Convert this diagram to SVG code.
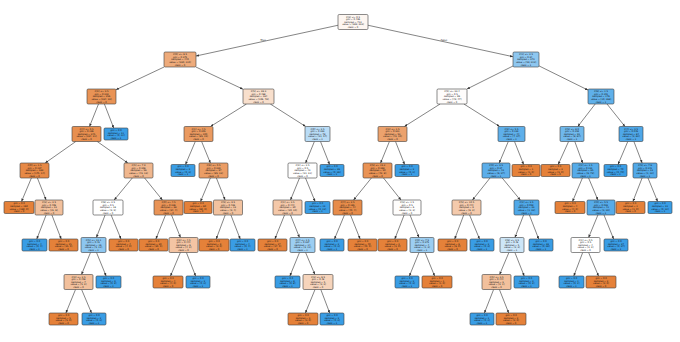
<svg xmlns="http://www.w3.org/2000/svg" width="680" height="342" viewBox="0 0 680 342">
<style>
g rect{stroke:#3c3c3c;stroke-width:0.6}
.O{fill:#e58139}.B{fill:#399de5}
text{font-family:"DejaVu Sans","Liberation Sans",sans-serif;font-size:2.3px;text-anchor:middle;fill:#111}
.lbl{font-size:2.6px}
#connectors line{stroke:#333;stroke-width:0.6;marker-end:url(#ah)}
</style>
<defs><marker id="ah" viewBox="0 0 6 6" refX="6" refY="3" markerWidth="3" markerHeight="3" orient="auto" markerUnits="userSpaceOnUse"><path d="M0,0.5 L6,3 L0,5.5 Z" fill="#333"/></marker></defs>
<g id="connectors">
<line x1="338" y1="25.25" x2="196" y2="56"/>
<line x1="368" y1="25.25" x2="513" y2="56.7"/>
<line x1="164.1" y1="67" x2="116" y2="89.7"/>
<line x1="195.9" y1="67" x2="243" y2="89.2"/>
<line x1="513" y1="66" x2="467" y2="89"/>
<line x1="539" y1="65.9" x2="588" y2="90.1"/>
<line x1="98.5" y1="104" x2="89.5" y2="126.5"/>
<line x1="104.4" y1="104" x2="113.7" y2="128"/>
<line x1="246.5" y1="104" x2="210.5" y2="126.5"/>
<line x1="270.3" y1="104" x2="305.7" y2="126.5"/>
<line x1="440.1" y1="104" x2="404.4" y2="126.5"/>
<line x1="463.9" y1="104" x2="499.6" y2="126.5"/>
<line x1="595.2" y1="104" x2="577.8" y2="126.5"/>
<line x1="607" y1="104" x2="625" y2="126.5"/>
<line x1="75.8" y1="141.5" x2="45.2" y2="163"/>
<line x1="97.2" y1="141.5" x2="127.8" y2="163"/>
<line x1="195.3" y1="141.5" x2="185.5" y2="164.5"/>
<line x1="201.6" y1="141.5" x2="210.4" y2="163"/>
<line x1="314.4" y1="141.5" x2="305.6" y2="163"/>
<line x1="320.5" y1="141.5" x2="329.6" y2="164.5"/>
<line x1="389.4" y1="141.5" x2="380.6" y2="163"/>
<line x1="395.5" y1="141.5" x2="404.6" y2="164.5"/>
<line x1="508.3" y1="141.5" x2="499.2" y2="163"/>
<line x1="514.5" y1="141.5" x2="523.6" y2="164.5"/>
<line x1="568.6" y1="141.5" x2="558.2" y2="164.5"/>
<line x1="574.8" y1="141.5" x2="582.7" y2="163"/>
<line x1="627.8" y1="141.5" x2="618" y2="164.5"/>
<line x1="633.9" y1="141.5" x2="642.1" y2="163"/>
<line x1="31.4" y1="178" x2="21.5" y2="201.5"/>
<line x1="37.4" y1="178" x2="46.1" y2="200"/>
<line x1="132.3" y1="178" x2="114.2" y2="200"/>
<line x1="144.6" y1="178" x2="162.4" y2="200"/>
<line x1="210.4" y1="178" x2="200.5" y2="201.5"/>
<line x1="216.4" y1="178" x2="225.1" y2="200"/>
<line x1="299.5" y1="178" x2="290.5" y2="200"/>
<line x1="305.5" y1="178" x2="315.1" y2="201.5"/>
<line x1="371.4" y1="178" x2="353.6" y2="200"/>
<line x1="383.5" y1="178" x2="401" y2="200"/>
<line x1="490" y1="178" x2="472.5" y2="200"/>
<line x1="502.2" y1="178" x2="520.3" y2="200"/>
<line x1="582.4" y1="178" x2="572.5" y2="201.5"/>
<line x1="588.6" y1="178" x2="597.9" y2="200"/>
<line x1="642.1" y1="178" x2="632.9" y2="201.5"/>
<line x1="648" y1="178" x2="657.6" y2="201.5"/>
<line x1="46.1" y1="215" x2="36.8" y2="239"/>
<line x1="51.9" y1="215" x2="61.2" y2="239"/>
<line x1="105.1" y1="215" x2="96.4" y2="237.5"/>
<line x1="111.1" y1="215" x2="121" y2="239"/>
<line x1="165.5" y1="215" x2="155.9" y2="239"/>
<line x1="171.5" y1="215" x2="180.5" y2="237.5"/>
<line x1="225.2" y1="215" x2="216.2" y2="239"/>
<line x1="230.9" y1="215" x2="240.2" y2="239"/>
<line x1="284.5" y1="215" x2="274.9" y2="239"/>
<line x1="290.5" y1="215" x2="299.5" y2="237.5"/>
<line x1="344.4" y1="215" x2="334.5" y2="239"/>
<line x1="350.5" y1="215" x2="360.1" y2="239"/>
<line x1="404.1" y1="215" x2="394.8" y2="239"/>
<line x1="410" y1="215" x2="419" y2="237.5"/>
<line x1="463.7" y1="215" x2="454.7" y2="239"/>
<line x1="469.6" y1="215" x2="479.5" y2="239"/>
<line x1="523.6" y1="215" x2="514.9" y2="237.5"/>
<line x1="529.4" y1="215" x2="538.7" y2="239"/>
<line x1="597.9" y1="215" x2="588.6" y2="237.5"/>
<line x1="604" y1="215" x2="613.6" y2="239"/>
<line x1="90.5" y1="252.5" x2="81.5" y2="274.5"/>
<line x1="96.5" y1="252.5" x2="106.1" y2="276"/>
<line x1="180.4" y1="252.5" x2="170.5" y2="276"/>
<line x1="186.4" y1="252.5" x2="195.6" y2="276"/>
<line x1="299.5" y1="252.5" x2="289.9" y2="276"/>
<line x1="305.6" y1="252.5" x2="314.9" y2="274.5"/>
<line x1="419" y1="252.5" x2="409.4" y2="276"/>
<line x1="425" y1="252.5" x2="434.6" y2="276"/>
<line x1="508.9" y1="252.5" x2="499.6" y2="274.5"/>
<line x1="514.9" y1="252.5" x2="524.2" y2="276"/>
<line x1="582.7" y1="252.5" x2="573.8" y2="276"/>
<line x1="588.6" y1="252.5" x2="598.5" y2="276"/>
<line x1="75.5" y1="289.5" x2="65.9" y2="313"/>
<line x1="81.6" y1="289.5" x2="91.5" y2="313"/>
<line x1="315" y1="289.5" x2="305.4" y2="313"/>
<line x1="320.8" y1="289.5" x2="329.7" y2="313"/>
<line x1="493.6" y1="289.5" x2="484.4" y2="313"/>
<line x1="499.4" y1="289.5" x2="508.7" y2="313"/>
<text class="lbl" x="263" y="40.5">True</text>
<text class="lbl" x="444" y="40.5">False</text>
</g>
<g id="n0"><rect x="338" y="14.5" width="30" height="15" rx="1.2" fill="#fdf6f1"/><text x="353" y="17.6"><tspan x="353">X[3] &lt;= 0.5</tspan><tspan x="353" dy="2.6">gini = 0.496</tspan><tspan x="353" dy="2.6">samples = 712</tspan><tspan x="353" dy="2.6">value = [389, 323]</tspan><tspan x="353" dy="2.6">class = 0</tspan></text></g>
<g id="n1"><rect x="164" y="52" width="32" height="15" rx="1.2" fill="#eeab7b"/><text x="180" y="55.1"><tspan x="180">X[0] &lt;= 6.5</tspan><tspan x="180" dy="2.6">gini = 0.375</tspan><tspan x="180" dy="2.6">samples = 440</tspan><tspan x="180" dy="2.6">value = [330, 110]</tspan><tspan x="180" dy="2.6">class = 0</tspan></text></g>
<g id="n2"><rect x="513" y="52" width="26" height="15" rx="1.2" fill="#8ec7f0"/><text x="526" y="55.1"><tspan x="526">X[1] &lt;= 2.5</tspan><tspan x="526" dy="2.6">gini = 0.34</tspan><tspan x="526" dy="2.6">samples = 272</tspan><tspan x="526" dy="2.6">value = [59, 213]</tspan><tspan x="526" dy="2.6">class = 1</tspan></text></g>
<g id="n3"><rect x="87" y="89" width="29" height="15" rx="1.2" fill="#e99355"/><text x="101.5" y="92.1"><tspan x="101.5">X[2] &lt;= 3.5</tspan><tspan x="101.5" dy="2.6">gini = 0.219</tspan><tspan x="101.5" dy="2.6">samples = 256</tspan><tspan x="101.5" dy="2.6">value = [224, 32]</tspan><tspan x="101.5" dy="2.6">class = 0</tspan></text></g>
<g id="n4"><rect x="243" y="89" width="31" height="15" rx="1.2" fill="#f8dfcc"/><text x="258.5" y="92.1"><tspan x="258.5">X[5] &lt;= 26.3</tspan><tspan x="258.5" dy="2.6">gini = 0.488</tspan><tspan x="258.5" dy="2.6">samples = 184</tspan><tspan x="258.5" dy="2.6">value = [106, 78]</tspan><tspan x="258.5" dy="2.6">class = 0</tspan></text></g>
<g id="n5"><rect x="437" y="89" width="30" height="15" rx="1.2" fill="#fefcfb"/><text x="452" y="92.1"><tspan x="452">X[5] &lt;= 23.4</tspan><tspan x="452" dy="2.6">gini = 0.5</tspan><tspan x="452" dy="2.6">samples = 96</tspan><tspan x="452" dy="2.6">value = [49, 47]</tspan><tspan x="452" dy="2.6">class = 0</tspan></text></g>
<g id="n6"><rect x="588" y="89" width="26" height="15" rx="1.2" fill="#5fb0ea"/><text x="601" y="92.1"><tspan x="601">X[6] &lt;= 1.5</tspan><tspan x="601" dy="2.6">gini = 0.101</tspan><tspan x="601" dy="2.6">samples = 176</tspan><tspan x="601" dy="2.6">value = [10, 166]</tspan><tspan x="601" dy="2.6">class = 1</tspan></text></g>
<g id="n7"><rect x="72" y="126.5" width="29" height="15" rx="1.2" fill="#e88f4f"/><text x="86.5" y="129.6"><tspan x="86.5">X[4] &lt;= 0.5</tspan><tspan x="86.5" dy="2.6">gini = 0.196</tspan><tspan x="86.5" dy="2.6">samples = 245</tspan><tspan x="86.5" dy="2.6">value = [224, 21]</tspan><tspan x="86.5" dy="2.6">class = 0</tspan></text></g>
<g id="n8"><rect class="B" x="104" y="128" width="24" height="12" rx="1.2"/><text x="116" y="130.9"><tspan x="116">gini = 0.0</tspan><tspan x="116" dy="2.6">samples = 11</tspan><tspan x="116" dy="2.6">value = [0, 11]</tspan><tspan x="116" dy="2.6">class = 1</tspan></text></g>
<g id="n9"><rect x="184" y="126.5" width="29" height="15" rx="1.2" fill="#ea9a60"/><text x="198.5" y="129.6"><tspan x="198.5">X[1] &lt;= 4.5</tspan><tspan x="198.5" dy="2.6">gini = 0.255</tspan><tspan x="198.5" dy="2.6">samples = 100</tspan><tspan x="198.5" dy="2.6">value = [85, 15]</tspan><tspan x="198.5" dy="2.6">class = 0</tspan></text></g>
<g id="n10"><rect x="305" y="126.5" width="25" height="15" rx="1.2" fill="#b9dcf6"/><text x="317.5" y="129.6"><tspan x="317.5">X[0] &lt;= 2.5</tspan><tspan x="317.5" dy="2.6">gini = 0.393</tspan><tspan x="317.5" dy="2.6">samples = 78</tspan><tspan x="317.5" dy="2.6">value = [21, 57]</tspan><tspan x="317.5" dy="2.6">class = 1</tspan></text></g>
<g id="n11"><rect x="378" y="126.5" width="29" height="15" rx="1.2" fill="#eca26d"/><text x="392.5" y="129.6"><tspan x="392.5">X[3] &lt;= 1.5</tspan><tspan x="392.5" dy="2.6">gini = 0.311</tspan><tspan x="392.5" dy="2.6">samples = 52</tspan><tspan x="392.5" dy="2.6">value = [42, 10]</tspan><tspan x="392.5" dy="2.6">class = 0</tspan></text></g>
<g id="n12"><rect x="498" y="126.5" width="27" height="15" rx="1.2" fill="#5eafea"/><text x="511.5" y="129.6"><tspan x="511.5">X[2] &lt;= 5.5</tspan><tspan x="511.5" dy="2.6">gini = 0.122</tspan><tspan x="511.5" dy="2.6">samples = 44</tspan><tspan x="511.5" dy="2.6">value = [7, 37]</tspan><tspan x="511.5" dy="2.6">class = 1</tspan></text></g>
<g id="n13"><rect x="560" y="126.5" width="24" height="15" rx="1.2" fill="#6fb8ec"/><text x="572" y="129.6"><tspan x="572">X[5] &lt;= 8.0</tspan><tspan x="572" dy="2.6">gini = 0.159</tspan><tspan x="572" dy="2.6">samples = 92</tspan><tspan x="572" dy="2.6">value = [8, 84]</tspan><tspan x="572" dy="2.6">class = 1</tspan></text></g>
<g id="n14"><rect x="619" y="126.5" width="24" height="15" rx="1.2" fill="#4ea7e8"/><text x="631" y="129.6"><tspan x="631">X[4] &lt;= 3.5</tspan><tspan x="631" dy="2.6">gini = 0.046</tspan><tspan x="631" dy="2.6">samples = 84</tspan><tspan x="631" dy="2.6">value = [2, 82]</tspan><tspan x="631" dy="2.6">class = 1</tspan></text></g>
<g id="n15"><rect x="20" y="163" width="29" height="15" rx="1.2" fill="#e78946"/><text x="34.5" y="166.1"><tspan x="34.5">X[0] &lt;= 1.5</tspan><tspan x="34.5" dy="2.6">gini = 0.137</tspan><tspan x="34.5" dy="2.6">samples = 189</tspan><tspan x="34.5" dy="2.6">value = [175, 14]</tspan><tspan x="34.5" dy="2.6">class = 0</tspan></text></g>
<g id="n16"><rect x="124" y="163" width="29" height="15" rx="1.2" fill="#f0b78e"/><text x="138.5" y="166.1"><tspan x="138.5">X[5] &lt;= 7.9</tspan><tspan x="138.5" dy="2.6">gini = 0.356</tspan><tspan x="138.5" dy="2.6">samples = 56</tspan><tspan x="138.5" dy="2.6">value = [43, 13]</tspan><tspan x="138.5" dy="2.6">class = 0</tspan></text></g>
<g id="n17"><rect class="B" x="171" y="164.5" width="24" height="12" rx="1.2"/><text x="183" y="167.4"><tspan x="183">gini = 0.0</tspan><tspan x="183" dy="2.6">samples = 3</tspan><tspan x="183" dy="2.6">value = [0, 3]</tspan><tspan x="183" dy="2.6">class = 1</tspan></text></g>
<g id="n18"><rect x="199" y="163" width="29" height="15" rx="1.2" fill="#eb9d65"/><text x="213.5" y="166.1"><tspan x="213.5">X[6] &lt;= 0.5</tspan><tspan x="213.5" dy="2.6">gini = 0.229</tspan><tspan x="213.5" dy="2.6">samples = 97</tspan><tspan x="213.5" dy="2.6">value = [85, 12]</tspan><tspan x="213.5" dy="2.6">class = 0</tspan></text></g>
<g id="n19"><rect x="288" y="163" width="29" height="15" rx="1.2" fill="#ffffff"/><text x="302.5" y="166.1"><tspan x="302.5">X[2] &lt;= 2.5</tspan><tspan x="302.5" dy="2.6">gini = 0.5</tspan><tspan x="302.5" dy="2.6">samples = 42</tspan><tspan x="302.5" dy="2.6">value = [21, 21]</tspan><tspan x="302.5" dy="2.6">class = 0</tspan></text></g>
<g id="n20"><rect class="B" x="320" y="164.5" width="24" height="12" rx="1.2"/><text x="332" y="167.4"><tspan x="332">gini = 0.0</tspan><tspan x="332" dy="2.6">samples = 36</tspan><tspan x="332" dy="2.6">value = [0, 36]</tspan><tspan x="332" dy="2.6">class = 1</tspan></text></g>
<g id="n21"><rect x="363" y="163" width="29" height="15" rx="1.2" fill="#e99355"/><text x="377.5" y="166.1"><tspan x="377.5">X[5] &lt;= 15.2</tspan><tspan x="377.5" dy="2.6">gini = 0.269</tspan><tspan x="377.5" dy="2.6">samples = 50</tspan><tspan x="377.5" dy="2.6">value = [42, 8]</tspan><tspan x="377.5" dy="2.6">class = 0</tspan></text></g>
<g id="n22"><rect class="B" x="395" y="164.5" width="24" height="12" rx="1.2"/><text x="407" y="167.4"><tspan x="407">gini = 0.0</tspan><tspan x="407" dy="2.6">samples = 2</tspan><tspan x="407" dy="2.6">value = [0, 2]</tspan><tspan x="407" dy="2.6">class = 1</tspan></text></g>
<g id="n23"><rect x="482" y="163" width="28" height="15" rx="1.2" fill="#5caeea"/><text x="496" y="166.1"><tspan x="496">X[0] &lt;= 3.5</tspan><tspan x="496" dy="2.6">gini = 0.27</tspan><tspan x="496" dy="2.6">samples = 43</tspan><tspan x="496" dy="2.6">value = [6, 37]</tspan><tspan x="496" dy="2.6">class = 1</tspan></text></g>
<g id="n24"><rect class="O" x="512" y="164.5" width="28" height="12" rx="1.2"/><text x="526" y="167.4"><tspan x="526">gini = 0.0</tspan><tspan x="526" dy="2.6">samples = 1</tspan><tspan x="526" dy="2.6">value = [1, 0]</tspan><tspan x="526" dy="2.6">class = 0</tspan></text></g>
<g id="n25"><rect class="O" x="541" y="164.5" width="29" height="12" rx="1.2"/><text x="555.5" y="167.4"><tspan x="555.5">gini = 0.0</tspan><tspan x="555.5" dy="2.6">samples = 2</tspan><tspan x="555.5" dy="2.6">value = [2, 0]</tspan><tspan x="555.5" dy="2.6">class = 0</tspan></text></g>
<g id="n26"><rect x="572" y="163" width="27" height="15" rx="1.2" fill="#55abe9"/><text x="585.5" y="166.1"><tspan x="585.5">X[1] &lt;= 1.5</tspan><tspan x="585.5" dy="2.6">gini = 0.131</tspan><tspan x="585.5" dy="2.6">samples = 85</tspan><tspan x="585.5" dy="2.6">value = [6, 79]</tspan><tspan x="585.5" dy="2.6">class = 1</tspan></text></g>
<g id="n27"><rect class="B" x="604" y="164.5" width="23" height="12" rx="1.2"/><text x="615.5" y="167.4"><tspan x="615.5">gini = 0.0</tspan><tspan x="615.5" dy="2.6">samples = 70</tspan><tspan x="615.5" dy="2.6">value = [0, 70]</tspan><tspan x="615.5" dy="2.6">class = 1</tspan></text></g>
<g id="n28"><rect x="633" y="163" width="24" height="15" rx="1.2" fill="#52a9e8"/><text x="645" y="166.1"><tspan x="645">X[5] &lt;= 7.6</tspan><tspan x="645" dy="2.6">gini = 0.142</tspan><tspan x="645" dy="2.6">samples = 13</tspan><tspan x="645" dy="2.6">value = [1, 12]</tspan><tspan x="645" dy="2.6">class = 1</tspan></text></g>
<g id="n29"><rect class="O" x="4" y="201.5" width="30" height="12" rx="1.2"/><text x="19" y="204.4"><tspan x="19">gini = 0.0</tspan><tspan x="19" dy="2.6">samples = 160</tspan><tspan x="19" dy="2.6">value = [160, 0]</tspan><tspan x="19" dy="2.6">class = 0</tspan></text></g>
<g id="n30"><rect x="35" y="200" width="28" height="15" rx="1.2" fill="#f2c09c"/><text x="49" y="203.1"><tspan x="49">X[2] &lt;= 2.5</tspan><tspan x="49" dy="2.6">gini = 0.408</tspan><tspan x="49" dy="2.6">samples = 21</tspan><tspan x="49" dy="2.6">value = [15, 6]</tspan><tspan x="49" dy="2.6">class = 0</tspan></text></g>
<g id="n31"><rect x="93" y="200" width="30" height="15" rx="1.2" fill="#ffffff"/><text x="108" y="203.1"><tspan x="108">X[6] &lt;= 2.5</tspan><tspan x="108" dy="2.6">gini = 0.5</tspan><tspan x="108" dy="2.6">samples = 18</tspan><tspan x="108" dy="2.6">value = [9, 9]</tspan><tspan x="108" dy="2.6">class = 0</tspan></text></g>
<g id="n32"><rect x="154" y="200" width="29" height="15" rx="1.2" fill="#e99457"/><text x="168.5" y="203.1"><tspan x="168.5">X[0] &lt;= 4.5</tspan><tspan x="168.5" dy="2.6">gini = 0.236</tspan><tspan x="168.5" dy="2.6">samples = 38</tspan><tspan x="168.5" dy="2.6">value = [34, 4]</tspan><tspan x="168.5" dy="2.6">class = 0</tspan></text></g>
<g id="n33"><rect class="O" x="184" y="201.5" width="28" height="12" rx="1.2"/><text x="198" y="204.4"><tspan x="198">gini = 0.0</tspan><tspan x="198" dy="2.6">samples = 60</tspan><tspan x="198" dy="2.6">value = [60, 0]</tspan><tspan x="198" dy="2.6">class = 0</tspan></text></g>
<g id="n34"><rect x="213.5" y="200" width="29" height="15" rx="1.2" fill="#f2c29f"/><text x="228" y="203.1"><tspan x="228">X[5] &lt;= 9.5</tspan><tspan x="228" dy="2.6">gini = 0.426</tspan><tspan x="228" dy="2.6">samples = 13</tspan><tspan x="228" dy="2.6">value = [9, 4]</tspan><tspan x="228" dy="2.6">class = 0</tspan></text></g>
<g id="n35"><rect x="273" y="200" width="29" height="15" rx="1.2" fill="#f4c8a9"/><text x="287.5" y="203.1"><tspan x="287.5">X[1] &lt;= 3.5</tspan><tspan x="287.5" dy="2.6">gini = 0.444</tspan><tspan x="287.5" dy="2.6">samples = 30</tspan><tspan x="287.5" dy="2.6">value = [20, 10]</tspan><tspan x="287.5" dy="2.6">class = 0</tspan></text></g>
<g id="n36"><rect class="B" x="305" y="201.5" width="25" height="12" rx="1.2"/><text x="317.5" y="204.4"><tspan x="317.5">gini = 0.0</tspan><tspan x="317.5" dy="2.6">samples = 12</tspan><tspan x="317.5" dy="2.6">value = [0, 12]</tspan><tspan x="317.5" dy="2.6">class = 1</tspan></text></g>
<g id="n37"><rect x="333" y="200" width="29" height="15" rx="1.2" fill="#e78c4a"/><text x="347.5" y="203.1"><tspan x="347.5">X[4] &lt;= 2.5</tspan><tspan x="347.5" dy="2.6">gini = 0.165</tspan><tspan x="347.5" dy="2.6">samples = 44</tspan><tspan x="347.5" dy="2.6">value = [40, 4]</tspan><tspan x="347.5" dy="2.6">class = 0</tspan></text></g>
<g id="n38"><rect x="393" y="200" width="28" height="15" rx="1.2" fill="#fefdfc"/><text x="407" y="203.1"><tspan x="407">X[2] &lt;= 1.5</tspan><tspan x="407" dy="2.6">gini = 0.5</tspan><tspan x="407" dy="2.6">samples = 6</tspan><tspan x="407" dy="2.6">value = [3, 3]</tspan><tspan x="407" dy="2.6">class = 0</tspan></text></g>
<g id="n39"><rect x="452" y="200" width="29" height="15" rx="1.2" fill="#f4caac"/><text x="466.5" y="203.1"><tspan x="466.5">X[5] &lt;= 10.5</tspan><tspan x="466.5" dy="2.6">gini = 0.444</tspan><tspan x="466.5" dy="2.6">samples = 9</tspan><tspan x="466.5" dy="2.6">value = [6, 3]</tspan><tspan x="466.5" dy="2.6">class = 0</tspan></text></g>
<g id="n40"><rect x="514" y="200" width="25" height="15" rx="1.2" fill="#4fa8e8"/><text x="526.5" y="203.1"><tspan x="526.5">X[1] &lt;= 3.5</tspan><tspan x="526.5" dy="2.6">gini = 0.059</tspan><tspan x="526.5" dy="2.6">samples = 33</tspan><tspan x="526.5" dy="2.6">value = [1, 32]</tspan><tspan x="526.5" dy="2.6">class = 1</tspan></text></g>
<g id="n41"><rect class="O" x="555" y="201.5" width="30" height="12" rx="1.2"/><text x="570" y="204.4"><tspan x="570">gini = 0.0</tspan><tspan x="570" dy="2.6">samples = 4</tspan><tspan x="570" dy="2.6">value = [4, 0]</tspan><tspan x="570" dy="2.6">class = 0</tspan></text></g>
<g id="n42"><rect x="587" y="200" width="28" height="15" rx="1.2" fill="#56abe9"/><text x="601" y="203.1"><tspan x="601">X[0] &lt;= 5.5</tspan><tspan x="601" dy="2.6">gini = 0.093</tspan><tspan x="601" dy="2.6">samples = 41</tspan><tspan x="601" dy="2.6">value = [2, 39]</tspan><tspan x="601" dy="2.6">class = 1</tspan></text></g>
<g id="n43"><rect class="O" x="616" y="201.5" width="29" height="12" rx="1.2"/><text x="630.5" y="204.4"><tspan x="630.5">gini = 0.0</tspan><tspan x="630.5" dy="2.6">samples = 1</tspan><tspan x="630.5" dy="2.6">value = [1, 0]</tspan><tspan x="630.5" dy="2.6">class = 0</tspan></text></g>
<g id="n44"><rect class="B" x="648" y="201.5" width="24" height="12" rx="1.2"/><text x="660" y="204.4"><tspan x="660">gini = 0.0</tspan><tspan x="660" dy="2.6">samples = 12</tspan><tspan x="660" dy="2.6">value = [0, 12]</tspan><tspan x="660" dy="2.6">class = 1</tspan></text></g>
<g id="n45"><rect class="B" x="22" y="239" width="25" height="12" rx="1.2"/><text x="34.5" y="241.9"><tspan x="34.5">gini = 0.0</tspan><tspan x="34.5" dy="2.6">samples = 4</tspan><tspan x="34.5" dy="2.6">value = [0, 4]</tspan><tspan x="34.5" dy="2.6">class = 1</tspan></text></g>
<g id="n46"><rect class="O" x="49" y="239" width="29" height="12" rx="1.2"/><text x="63.5" y="241.9"><tspan x="63.5">gini = 0.0</tspan><tspan x="63.5" dy="2.6">samples = 15</tspan><tspan x="63.5" dy="2.6">value = [15, 0]</tspan><tspan x="63.5" dy="2.6">class = 0</tspan></text></g>
<g id="n47"><rect x="81" y="237.5" width="25" height="15" rx="1.2" fill="#8cc6f0"/><text x="93.5" y="240.6"><tspan x="93.5">X[5] &lt;= 12.1</tspan><tspan x="93.5" dy="2.6">gini = 0.43</tspan><tspan x="93.5" dy="2.6">samples = 16</tspan><tspan x="93.5" dy="2.6">value = [5, 11]</tspan><tspan x="93.5" dy="2.6">class = 1</tspan></text></g>
<g id="n48"><rect class="O" x="109" y="239" width="29" height="12" rx="1.2"/><text x="123.5" y="241.9"><tspan x="123.5">gini = 0.0</tspan><tspan x="123.5" dy="2.6">samples = 4</tspan><tspan x="123.5" dy="2.6">value = [4, 0]</tspan><tspan x="123.5" dy="2.6">class = 0</tspan></text></g>
<g id="n49"><rect class="O" x="139" y="239" width="29" height="12" rx="1.2"/><text x="153.5" y="241.9"><tspan x="153.5">gini = 0.0</tspan><tspan x="153.5" dy="2.6">samples = 30</tspan><tspan x="153.5" dy="2.6">value = [30, 0]</tspan><tspan x="153.5" dy="2.6">class = 0</tspan></text></g>
<g id="n50"><rect x="169" y="237.5" width="29" height="15" rx="1.2" fill="#f3c4a3"/><text x="183.5" y="240.6"><tspan x="183.5">X[2] &lt;= 4.5</tspan><tspan x="183.5" dy="2.6">gini = 0.444</tspan><tspan x="183.5" dy="2.6">samples = 6</tspan><tspan x="183.5" dy="2.6">value = [4, 2]</tspan><tspan x="183.5" dy="2.6">class = 0</tspan></text></g>
<g id="n51"><rect class="O" x="199" y="239" width="30" height="12" rx="1.2"/><text x="214" y="241.9"><tspan x="214">gini = 0.0</tspan><tspan x="214" dy="2.6">samples = 9</tspan><tspan x="214" dy="2.6">value = [9, 0]</tspan><tspan x="214" dy="2.6">class = 0</tspan></text></g>
<g id="n52"><rect class="B" x="230" y="239" width="25" height="12" rx="1.2"/><text x="242.5" y="241.9"><tspan x="242.5">gini = 0.0</tspan><tspan x="242.5" dy="2.6">samples = 4</tspan><tspan x="242.5" dy="2.6">value = [0, 4]</tspan><tspan x="242.5" dy="2.6">class = 1</tspan></text></g>
<g id="n53"><rect class="O" x="258" y="239" width="29" height="12" rx="1.2"/><text x="272.5" y="241.9"><tspan x="272.5">gini = 0.0</tspan><tspan x="272.5" dy="2.6">samples = 17</tspan><tspan x="272.5" dy="2.6">value = [17, 0]</tspan><tspan x="272.5" dy="2.6">class = 0</tspan></text></g>
<g id="n54"><rect x="290" y="237.5" width="25" height="15" rx="1.2" fill="#9ccef2"/><text x="302.5" y="240.6"><tspan x="302.5">X[4] &lt;= 1.5</tspan><tspan x="302.5" dy="2.6">gini = 0.337</tspan><tspan x="302.5" dy="2.6">samples = 14</tspan><tspan x="302.5" dy="2.6">value = [3, 11]</tspan><tspan x="302.5" dy="2.6">class = 1</tspan></text></g>
<g id="n55"><rect class="B" x="320" y="239" width="24" height="12" rx="1.2"/><text x="332" y="241.9"><tspan x="332">gini = 0.0</tspan><tspan x="332" dy="2.6">samples = 2</tspan><tspan x="332" dy="2.6">value = [0, 2]</tspan><tspan x="332" dy="2.6">class = 1</tspan></text></g>
<g id="n56"><rect class="O" x="348" y="239" width="29" height="12" rx="1.2"/><text x="362.5" y="241.9"><tspan x="362.5">gini = 0.0</tspan><tspan x="362.5" dy="2.6">samples = 40</tspan><tspan x="362.5" dy="2.6">value = [40, 0]</tspan><tspan x="362.5" dy="2.6">class = 0</tspan></text></g>
<g id="n57"><rect class="O" x="378" y="239" width="29" height="12" rx="1.2"/><text x="392.5" y="241.9"><tspan x="392.5">gini = 0.0</tspan><tspan x="392.5" dy="2.6">samples = 2</tspan><tspan x="392.5" dy="2.6">value = [2, 0]</tspan><tspan x="392.5" dy="2.6">class = 0</tspan></text></g>
<g id="n58"><rect x="410" y="237.5" width="24" height="15" rx="1.2" fill="#9ccef2"/><text x="422" y="240.6"><tspan x="422">X[0] &lt;= 7.5</tspan><tspan x="422" dy="2.6">gini = 0.375</tspan><tspan x="422" dy="2.6">samples = 4</tspan><tspan x="422" dy="2.6">value = [1, 3]</tspan><tspan x="422" dy="2.6">class = 1</tspan></text></g>
<g id="n59"><rect class="O" x="438" y="239" width="29" height="12" rx="1.2"/><text x="452.5" y="241.9"><tspan x="452.5">gini = 0.0</tspan><tspan x="452.5" dy="2.6">samples = 6</tspan><tspan x="452.5" dy="2.6">value = [6, 0]</tspan><tspan x="452.5" dy="2.6">class = 0</tspan></text></g>
<g id="n60"><rect class="B" x="470" y="239" width="24" height="12" rx="1.2"/><text x="482" y="241.9"><tspan x="482">gini = 0.0</tspan><tspan x="482" dy="2.6">samples = 3</tspan><tspan x="482" dy="2.6">value = [0, 3]</tspan><tspan x="482" dy="2.6">class = 1</tspan></text></g>
<g id="n61"><rect x="500" y="237.5" width="24" height="15" rx="1.2" fill="#cde6f8"/><text x="512" y="240.6"><tspan x="512">X[6] &lt;= 3.5</tspan><tspan x="512" dy="2.6">gini = 0.48</tspan><tspan x="512" dy="2.6">samples = 5</tspan><tspan x="512" dy="2.6">value = [2, 3]</tspan><tspan x="512" dy="2.6">class = 1</tspan></text></g>
<g id="n62"><rect class="B" x="529" y="239" width="24" height="12" rx="1.2"/><text x="541" y="241.9"><tspan x="541">gini = 0.0</tspan><tspan x="541" dy="2.6">samples = 28</tspan><tspan x="541" dy="2.6">value = [0, 28]</tspan><tspan x="541" dy="2.6">class = 1</tspan></text></g>
<g id="n63"><rect x="571" y="237.5" width="29" height="15" rx="1.2" fill="#ffffff"/><text x="585.5" y="240.6"><tspan x="585.5">X[1] &lt;= 0.5</tspan><tspan x="585.5" dy="2.6">gini = 0.5</tspan><tspan x="585.5" dy="2.6">samples = 4</tspan><tspan x="585.5" dy="2.6">value = [2, 2]</tspan><tspan x="585.5" dy="2.6">class = 0</tspan></text></g>
<g id="n64"><rect class="B" x="604" y="239" width="24" height="12" rx="1.2"/><text x="616" y="241.9"><tspan x="616">gini = 0.0</tspan><tspan x="616" dy="2.6">samples = 37</tspan><tspan x="616" dy="2.6">value = [0, 37]</tspan><tspan x="616" dy="2.6">class = 1</tspan></text></g>
<g id="n65"><rect x="64" y="274.5" width="29" height="15" rx="1.2" fill="#f2c09c"/><text x="78.5" y="277.6"><tspan x="78.5">X[3] &lt;= 2.5</tspan><tspan x="78.5" dy="2.6">gini = 0.408</tspan><tspan x="78.5" dy="2.6">samples = 7</tspan><tspan x="78.5" dy="2.6">value = [5, 2]</tspan><tspan x="78.5" dy="2.6">class = 0</tspan></text></g>
<g id="n66"><rect class="B" x="96" y="276" width="25" height="12" rx="1.2"/><text x="108.5" y="278.9"><tspan x="108.5">gini = 0.0</tspan><tspan x="108.5" dy="2.6">samples = 9</tspan><tspan x="108.5" dy="2.6">value = [0, 9]</tspan><tspan x="108.5" dy="2.6">class = 1</tspan></text></g>
<g id="n67"><rect class="O" x="153" y="276" width="30" height="12" rx="1.2"/><text x="168" y="278.9"><tspan x="168">gini = 0.0</tspan><tspan x="168" dy="2.6">samples = 4</tspan><tspan x="168" dy="2.6">value = [4, 0]</tspan><tspan x="168" dy="2.6">class = 0</tspan></text></g>
<g id="n68"><rect class="B" x="186" y="276" width="24" height="12" rx="1.2"/><text x="198" y="278.9"><tspan x="198">gini = 0.0</tspan><tspan x="198" dy="2.6">samples = 2</tspan><tspan x="198" dy="2.6">value = [0, 2]</tspan><tspan x="198" dy="2.6">class = 1</tspan></text></g>
<g id="n69"><rect class="B" x="275" y="276" width="25" height="12" rx="1.2"/><text x="287.5" y="278.9"><tspan x="287.5">gini = 0.0</tspan><tspan x="287.5" dy="2.6">samples = 8</tspan><tspan x="287.5" dy="2.6">value = [0, 8]</tspan><tspan x="287.5" dy="2.6">class = 1</tspan></text></g>
<g id="n70"><rect x="303" y="274.5" width="30" height="15" rx="1.2" fill="#f6d4bb"/><text x="318" y="277.6"><tspan x="318">X[2] &lt;= 6.5</tspan><tspan x="318" dy="2.6">gini = 0.48</tspan><tspan x="318" dy="2.6">samples = 5</tspan><tspan x="318" dy="2.6">value = [3, 2]</tspan><tspan x="318" dy="2.6">class = 0</tspan></text></g>
<g id="n71"><rect class="B" x="395" y="276" width="24" height="12" rx="1.2"/><text x="407" y="278.9"><tspan x="407">gini = 0.0</tspan><tspan x="407" dy="2.6">samples = 3</tspan><tspan x="407" dy="2.6">value = [0, 3]</tspan><tspan x="407" dy="2.6">class = 1</tspan></text></g>
<g id="n72"><rect class="O" x="422" y="276" width="30" height="12" rx="1.2"/><text x="437" y="278.9"><tspan x="437">gini = 0.0</tspan><tspan x="437" dy="2.6">samples = 1</tspan><tspan x="437" dy="2.6">value = [1, 0]</tspan><tspan x="437" dy="2.6">class = 0</tspan></text></g>
<g id="n73"><rect x="482" y="274.5" width="29" height="15" rx="1.2" fill="#f2c09c"/><text x="496.5" y="277.6"><tspan x="496.5">X[5] &lt;= 3.5</tspan><tspan x="496.5" dy="2.6">gini = 0.444</tspan><tspan x="496.5" dy="2.6">samples = 3</tspan><tspan x="496.5" dy="2.6">value = [2, 1]</tspan><tspan x="496.5" dy="2.6">class = 0</tspan></text></g>
<g id="n74"><rect class="B" x="514" y="276" width="25" height="12" rx="1.2"/><text x="526.5" y="278.9"><tspan x="526.5">gini = 0.0</tspan><tspan x="526.5" dy="2.6">samples = 2</tspan><tspan x="526.5" dy="2.6">value = [0, 2]</tspan><tspan x="526.5" dy="2.6">class = 1</tspan></text></g>
<g id="n75"><rect class="B" x="559" y="276" width="25" height="12" rx="1.2"/><text x="571.5" y="278.9"><tspan x="571.5">gini = 0.0</tspan><tspan x="571.5" dy="2.6">samples = 1</tspan><tspan x="571.5" dy="2.6">value = [0, 1]</tspan><tspan x="571.5" dy="2.6">class = 1</tspan></text></g>
<g id="n76"><rect class="O" x="586" y="276" width="30" height="12" rx="1.2"/><text x="601" y="278.9"><tspan x="601">gini = 0.0</tspan><tspan x="601" dy="2.6">samples = 2</tspan><tspan x="601" dy="2.6">value = [2, 0]</tspan><tspan x="601" dy="2.6">class = 0</tspan></text></g>
<g id="n77"><rect class="O" x="49" y="313" width="29" height="12" rx="1.2"/><text x="63.5" y="315.9"><tspan x="63.5">gini = 0.0</tspan><tspan x="63.5" dy="2.6">samples = 5</tspan><tspan x="63.5" dy="2.6">value = [5, 0]</tspan><tspan x="63.5" dy="2.6">class = 0</tspan></text></g>
<g id="n78"><rect class="B" x="82" y="313" width="24" height="12" rx="1.2"/><text x="94" y="315.9"><tspan x="94">gini = 0.0</tspan><tspan x="94" dy="2.6">samples = 2</tspan><tspan x="94" dy="2.6">value = [0, 2]</tspan><tspan x="94" dy="2.6">class = 1</tspan></text></g>
<g id="n79"><rect class="O" x="288" y="313" width="30" height="12" rx="1.2"/><text x="303" y="315.9"><tspan x="303">gini = 0.0</tspan><tspan x="303" dy="2.6">samples = 3</tspan><tspan x="303" dy="2.6">value = [3, 0]</tspan><tspan x="303" dy="2.6">class = 0</tspan></text></g>
<g id="n80"><rect class="B" x="320" y="313" width="24" height="12" rx="1.2"/><text x="332" y="315.9"><tspan x="332">gini = 0.0</tspan><tspan x="332" dy="2.6">samples = 2</tspan><tspan x="332" dy="2.6">value = [0, 2]</tspan><tspan x="332" dy="2.6">class = 1</tspan></text></g>
<g id="n81"><rect class="B" x="470" y="313" width="24" height="12" rx="1.2"/><text x="482" y="315.9"><tspan x="482">gini = 0.0</tspan><tspan x="482" dy="2.6">samples = 1</tspan><tspan x="482" dy="2.6">value = [0, 1]</tspan><tspan x="482" dy="2.6">class = 1</tspan></text></g>
<g id="n82"><rect class="O" x="496" y="313" width="30" height="12" rx="1.2"/><text x="511" y="315.9"><tspan x="511">gini = 0.0</tspan><tspan x="511" dy="2.6">samples = 2</tspan><tspan x="511" dy="2.6">value = [2, 0]</tspan><tspan x="511" dy="2.6">class = 0</tspan></text></g>
</svg>
